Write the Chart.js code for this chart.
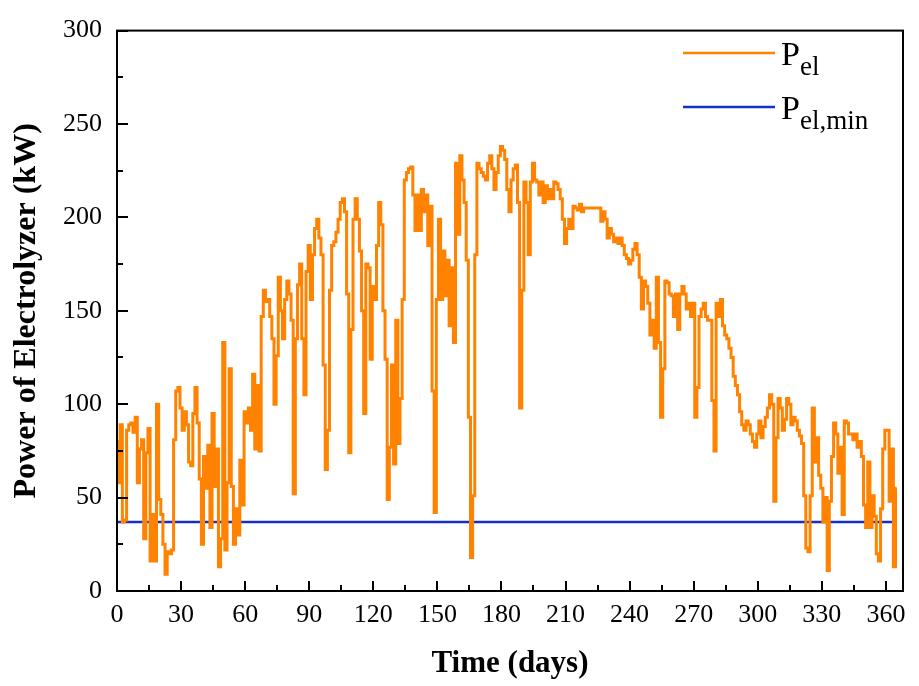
<!DOCTYPE html>
<html>
<head>
<meta charset="utf-8">
<script src="https://cdn.jsdelivr.net/npm/chart.js@4"></script>
<style>
  html, body { margin: 0; padding: 0; background: #fff; }
  #wrap { width: 919px; height: 686px; }
</style>
</head>
<body>
<div id="wrap"><canvas id="elChart" width="919" height="686"></canvas></div>
<script>
// daily electrolyzer power (kW), day 0..365
const pel = [
  80, 58, 89, 37, 38, 86, 89, 90, 85, 93,
  58, 76, 81, 28, 74, 87, 16, 41, 16, 100,
  49, 41, 25, 9, 21, 20, 22, 81, 107, 109,
  98, 86, 96, 89, 69, 67, 95, 109, 90, 60,
  25, 72, 55, 78, 34, 95, 56, 76, 13, 28,
  133, 22, 58, 119, 56, 25, 44, 30, 70, 46,
  96, 90, 98, 86, 116, 76, 110, 75, 147, 161,
  155, 156, 147, 135, 100, 126, 168, 150, 135, 156,
  166, 159, 145, 52, 135, 164, 175, 135, 105, 171,
  185, 156, 180, 194, 199, 189, 180, 121, 65, 86,
  161, 185, 187, 192, 199, 208, 210, 203, 159, 74,
  140, 199, 210, 199, 182, 150, 95, 175, 173, 124,
  163, 156, 185, 208, 196, 150, 124, 49, 77, 121,
  68, 145, 79, 103, 156, 220, 224, 226, 227, 212,
  193, 212, 193, 215, 203, 212, 185, 206, 107, 42,
  156, 199, 156, 182, 158, 177, 142, 173, 133, 229,
  191, 233, 220, 208, 177, 93, 18, 51, 180, 229,
  226, 224, 222, 220, 229, 233, 226, 215, 224, 233,
  238, 236, 231, 215, 203, 220, 226, 228, 208, 98,
  161, 219, 208, 180, 219, 229, 220, 219, 212, 219,
  208, 217, 210, 215, 210, 219, 218, 215, 210, 199,
  186, 194, 199, 194, 206, 205, 204, 207, 203, 205,
  205, 205, 205, 205, 205, 205, 205, 198, 203, 199,
  189, 194, 191, 187, 189, 186, 189, 185, 180, 178,
  175, 177, 183, 186, 180, 168, 151, 166, 163, 154,
  137, 145, 130, 168, 133, 93, 119, 166, 165, 159,
  158, 147, 159, 140, 159, 163, 159, 151, 154, 147,
  154, 93, 109, 147, 151, 154, 147, 145, 145, 102,
  75, 154, 147, 156, 142, 137, 135, 130, 125, 115,
  110, 105, 96, 89, 86, 91, 89, 84, 80, 77,
  84, 91, 82, 88, 93, 98, 105, 100, 48, 82,
  103, 98, 86, 92, 103, 100, 89, 93, 91, 86,
  83, 79, 51, 23, 21, 51, 98, 69, 82, 62,
  55, 37, 50, 11, 48, 72, 90, 84, 63, 77,
  41, 91, 90, 84, 84, 81, 84, 77, 80, 72,
  46, 34, 69, 34, 51, 40, 20, 16, 44, 76,
  86, 86, 48, 76, 13, 55
];
const days = pel.map((_, i) => i);

// minimum electrolyzer power
const minDays = [0, 365];
const pelMin = [37, 37];

const xTicks = [0, 30, 60, 90, 120, 150, 180, 210, 240, 270, 300, 330, 360];
const yTicks = [0, 50, 100, 150, 200, 250, 300];

const serif = "'Liberation Serif', 'Times New Roman', serif";

// frame, inward ticks and legend
const framePlugin = {
  id: 'frame',
  afterDraw(chart) {
    const { ctx, chartArea: a, scales } = chart;
    const xs = scales.x, ys = scales.y;
    ctx.save();
    ctx.strokeStyle = '#000';
    ctx.lineWidth = 2;
    ctx.strokeRect(a.left, a.top, a.right - a.left, a.bottom - a.top);
    ctx.beginPath();
    for (let v = 0; v <= 360; v += 15) {
      const px = Math.round(xs.getPixelForValue(v));
      const len = v % 30 === 0 ? 10 : 6;
      ctx.moveTo(px, a.bottom);
      ctx.lineTo(px, a.bottom - len);
    }
    for (let v = 0; v <= 300; v += 25) {
      const py = Math.round(ys.getPixelForValue(v));
      const len = v % 50 === 0 ? 11 : 6;
      ctx.moveTo(a.left, py);
      ctx.lineTo(a.left + len, py);
    }
    ctx.stroke();

    // legend
    const items = [
      { color: '#FF8200', y: 53, sub: 'el' },
      { color: '#1430C0', y: 107, sub: 'el,min' }
    ];
    items.forEach(it => {
      ctx.strokeStyle = it.color;
      ctx.lineWidth = 2.5;
      ctx.beginPath();
      ctx.moveTo(683, it.y);
      ctx.lineTo(775, it.y);
      ctx.stroke();
      ctx.fillStyle = '#000';
      ctx.textBaseline = 'alphabetic';
      ctx.textAlign = 'left';
      ctx.font = '34px ' + serif;
      ctx.fillText('P', 781, it.y + 12);
      const w = ctx.measureText('P').width;
      ctx.font = '27px ' + serif;
      ctx.fillText(it.sub, 781 + w, it.y + 22);
    });
    ctx.restore();
  }
};

new Chart(document.getElementById('elChart').getContext('2d'), {
  type: 'line',
  data: {
    datasets: [
      {
        label: 'Pel',
        data: days.map((d, i) => ({ x: d, y: pel[i] })),
        borderColor: '#FF8200',
        borderWidth: 3,
        pointRadius: 0,
        tension: 0,
        stepped: 'middle'
      },
      {
        label: 'Pel,min',
        data: minDays.map((d, i) => ({ x: d, y: pelMin[i] })),
        borderColor: '#1430C0',
        borderWidth: 2.5,
        pointRadius: 0
      }
    ]
  },
  options: {
    responsive: false,
    animation: false,
    layout: { padding: { top: 18, right: 16, left: 0, bottom: 0 } },
    plugins: { legend: { display: false }, tooltip: { enabled: false } },
    scales: {
      x: {
        type: 'linear',
        min: 0,
        max: 368,
        afterBuildTicks: s => { s.ticks = xTicks.map(v => ({ value: v })); },
        afterFit: s => { s.height = 95; },
        grid: { display: false, drawTicks: false },
        border: { display: false },
        ticks: { color: '#000', font: { family: serif, size: 26 }, padding: 9, maxRotation: 0, autoSkip: false },
        title: { display: true, text: 'Time (days)', color: '#000', font: { family: serif, size: 31, weight: 'bold' }, padding: { top: 0, bottom: 3 } }
      },
      y: {
        min: 0,
        max: 300,
        afterBuildTicks: s => { s.ticks = yTicks.map(v => ({ value: v })); },
        afterFit: s => { s.width = 117; },
        grid: { display: false, drawTicks: false },
        border: { display: false },
        ticks: { color: '#000', font: { family: serif, size: 26 }, padding: 15 },
        title: { display: true, text: 'Power of Electrolyzer (kW)', color: '#000', font: { family: serif, size: 32, weight: 'bold' }, padding: { top: 8, bottom: 0 } }
      }
    }
  },
  plugins: [framePlugin]
});
</script>
</body>
</html>
